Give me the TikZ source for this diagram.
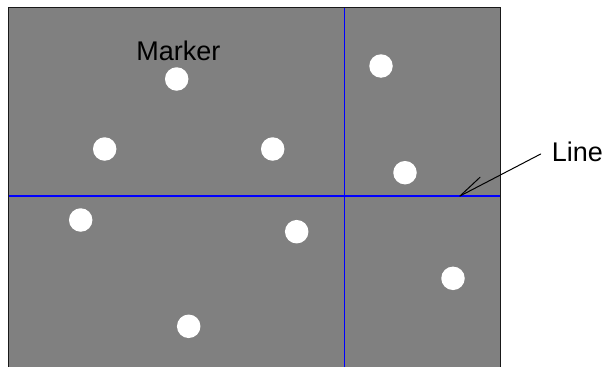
\documentclass[tikz,border=0pt]{standalone}
\usepackage{fontspec}
\setmainfont{Liberation Sans}
\begin{document}
\begin{tikzpicture}[x=1pt,y=-1pt,
  dot/.style={circle,fill=white,draw=none,minimum size=23.5pt,inner sep=0pt},
  lbl/.style={inner sep=0pt,font=\fontsize{27}{32}\selectfont,text=black},
  gridline/.style={draw={rgb,255:red,0;green,0;blue,255},line width=1.3pt},
  frame/.style={draw=black!90,line width=1.1pt},
  pointer/.style={draw=black,line width=1pt,line cap=round}]
\useasboundingbox (0,0) rectangle (606,367);
\definecolor{plotgray}{RGB}{128,128,128}
\fill[plotgray] (8.5,7.5) rectangle (500.5,367);
% grid lines
\coordinate (vtop) at (344.7,7.5);
\coordinate (vbot) at (344.7,367);
\coordinate (hl) at (8.5,196);
\coordinate (hr) at (500.5,196);
\draw[gridline] (vtop) -- (vbot);
\draw[gridline] (hl) -- (hr);
% markers
\node[dot] (d1) at (176.7,79) {};
\node[dot] (d2) at (381,66) {};
\node[dot] (d3) at (104.7,149) {};
\node[dot] (d4) at (272.7,149) {};
\node[dot] (d5) at (405,172.7) {};
\node[dot] (d6) at (80.7,220) {};
\node[dot] (d7) at (296.7,231.7) {};
\node[dot] (d8) at (453,278.3) {};
\node[dot] (d9) at (188.7,326.3) {};
% frame
\draw[frame] (8.5,367) -- (8.5,7.5) -- (500.5,7.5) -- (500.5,367);
% labels
\node[lbl,anchor=base] (marker) at (178.4,60.7) {Marker};
\node[lbl,anchor=base west] (linelbl) at (551.7,161.7) {Line};
% pointer arrow
\coordinate (astart) at (540.7,154);
\coordinate (tip) at (460,196);
\coordinate (barb) at (480,177.3);
\draw[pointer] (astart) -- (tip);
\draw[pointer] (tip) -- (barb);
\end{tikzpicture}
\end{document}
